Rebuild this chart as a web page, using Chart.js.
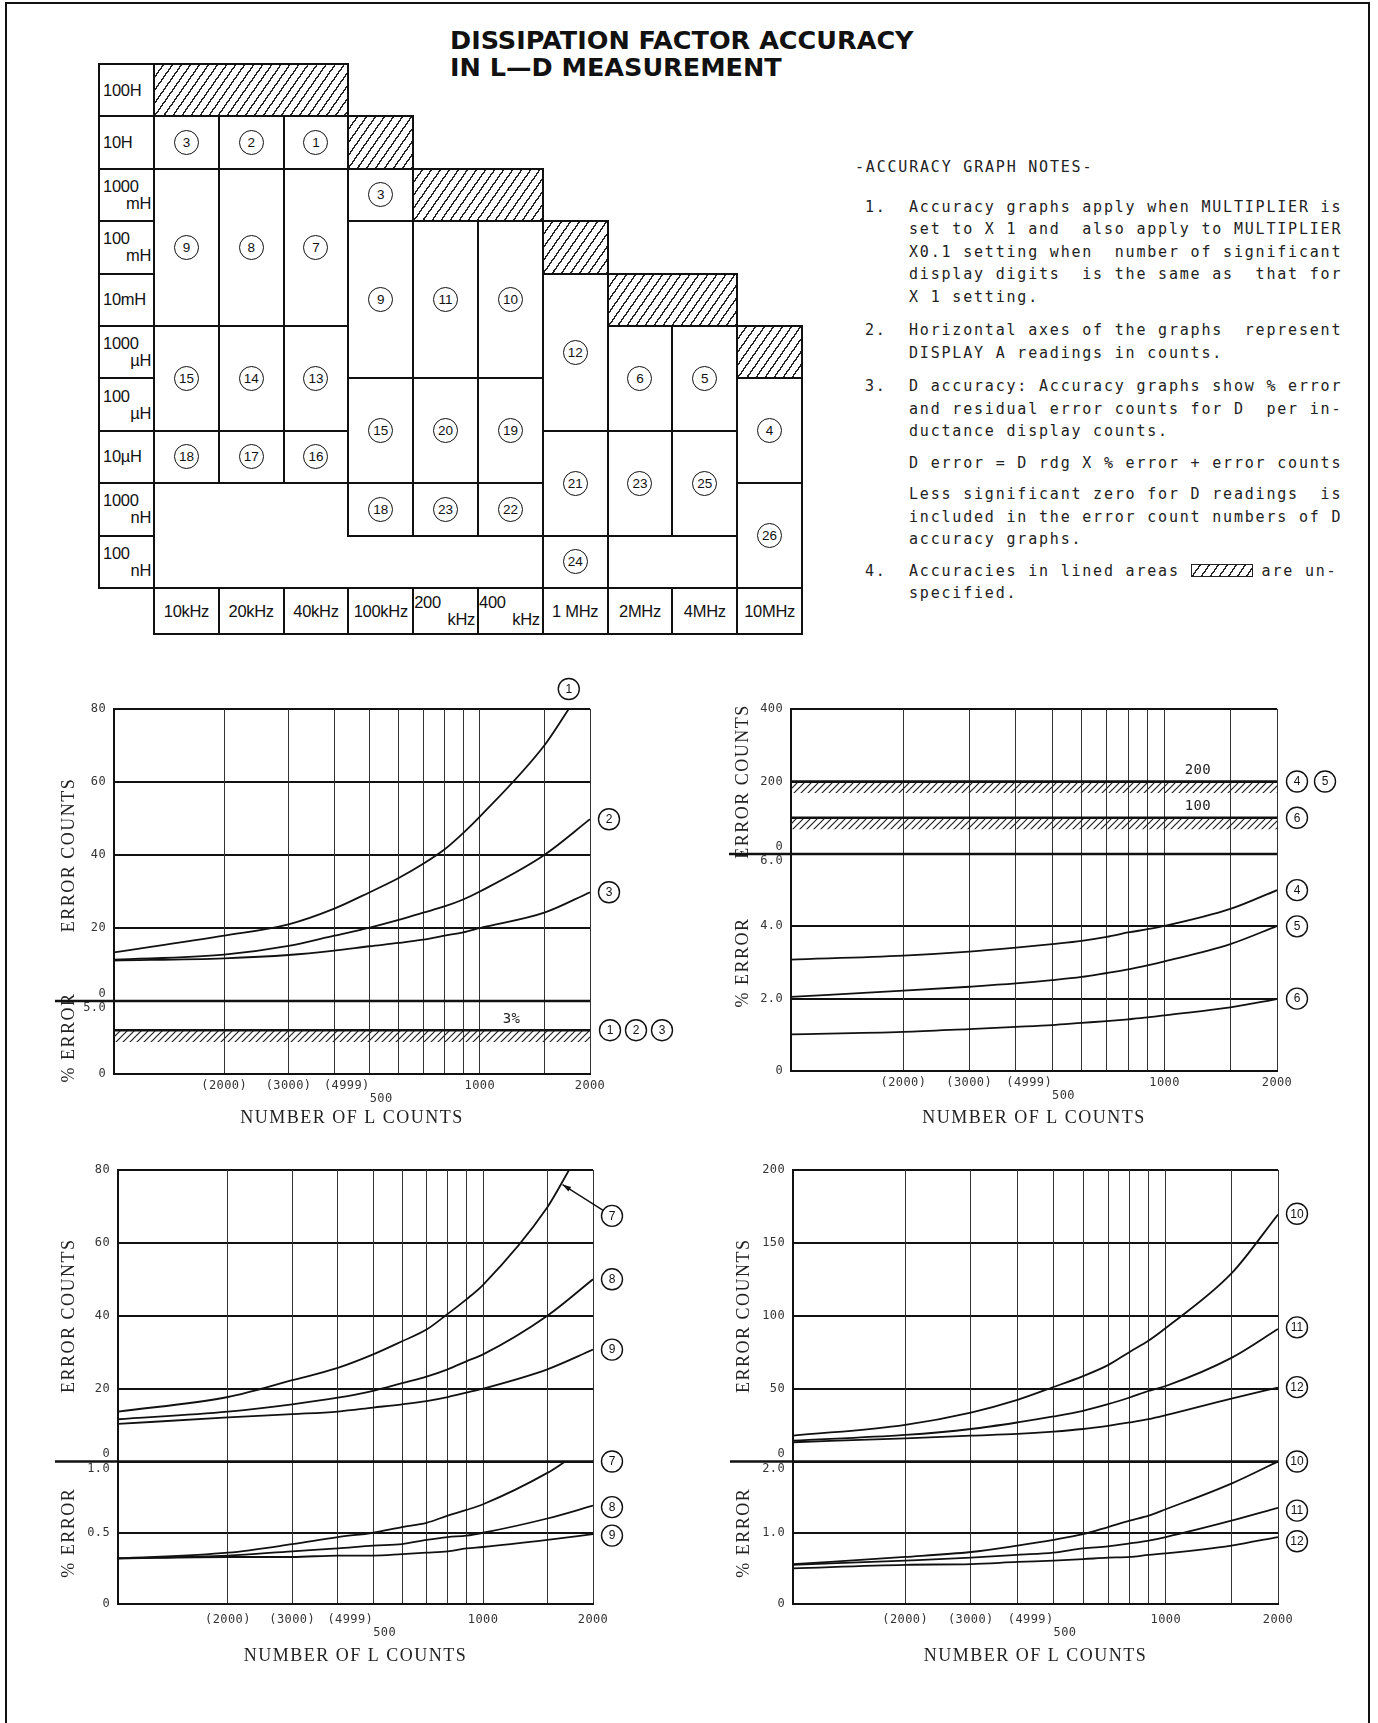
<!DOCTYPE html>
<html>
<head>
<meta charset="utf-8">
<script src="https://cdn.jsdelivr.net/npm/chart.js@4.4.1/dist/chart.umd.min.js"></script>
<style>
  body { margin:0; background:#fff; width:1378px; height:1723px; position:relative; overflow:hidden; color:#111; font-family:"Liberation Sans", sans-serif; }
  #frame { position:absolute; left:5px; top:2px; width:1361px; height:1800px; border:2px solid #111; border-bottom:none; }
  #title { position:absolute; left:450px; top:27px; font:bold 25.5px "DejaVu Sans", sans-serif; line-height:27px; white-space:pre; }
  #grid { position:absolute; left:99px; top:64px; width:710px; height:575px; }
  .cell { position:absolute; box-sizing:border-box; border:2px solid #111; display:flex; align-items:center; justify-content:center; font-size:16.5px; letter-spacing:-0.3px; background:#fff; }
  .lab { justify-content:flex-start; padding-left:3px; }
  .hatch, .hsample { background:repeating-linear-gradient(125deg, #fff 0 6px, #222 6px 7.4px); }
  .circ { flex:0 0 auto; box-sizing:border-box; width:25px; height:25px; border:1.6px solid #111; border-radius:50%; display:flex; align-items:center; justify-content:center; font:13.5px "Liberation Sans Narrow", "Liberation Sans", sans-serif; letter-spacing:0; }
  .two { display:flex; flex-direction:column; width:100%; line-height:17px; padding:0 2px 0 0; }
  .two span:last-child { align-self:flex-end; }
  #notes { position:absolute; left:855px; top:156px; font:15px "DejaVu Sans Mono", monospace; letter-spacing:1.8px; color:#222; line-height:22.5px; }
  #notes .item { display:flex; margin-top:9px; }
  #notes .num { width:54px; padding-left:10px; box-sizing:border-box; }
  #notes .txt { white-space:pre; }
  .hsample { display:inline-block; width:60px; height:11px; border:1px solid #222; vertical-align:-1px; margin-right:9px; }
  canvas { position:absolute; }
</style>
</head>
<body>
<div id="frame"></div>
<div id="title">DISSIPATION FACTOR ACCURACY
IN L—D MEASUREMENT</div>
<div id="grid"></div>
<div id="notes">
  <div>-ACCURACY GRAPH NOTES-</div>
  <div class="item" style="margin-top:17px"><div class="num">1.</div><div class="txt">Accuracy graphs apply when MULTIPLIER is
set to X 1 and  also apply to MULTIPLIER
X0.1 setting when  number of significant
display digits  is the same as  that for
X 1 setting.</div></div>
  <div class="item" style="margin-top:11px"><div class="num">2.</div><div class="txt">Horizontal axes of the graphs  represent
DISPLAY A readings in counts.</div></div>
  <div class="item" style="margin-top:11px"><div class="num">3.</div><div class="txt">D accuracy: Accuracy graphs show % error
and residual error counts for D  per in-
ductance display counts.</div></div>
  <div class="item"><div class="num"></div><div class="txt">D error = D rdg X % error + error counts</div></div>
  <div class="item"><div class="num"></div><div class="txt">Less significant zero for D readings  is
included in the error count numbers of D
accuracy graphs.</div></div>
  <div class="item"><div class="num">4.</div><div class="txt">Accuracies in lined areas <span class="hsample"></span>are un-
specified.</div></div>
</div>
<canvas id="g1" width="636" height="460" style="left:54px;top:670px"></canvas>
<canvas id="g2" width="640" height="460" style="left:728px;top:670px"></canvas>
<canvas id="g3" width="636" height="540" style="left:54px;top:1130px"></canvas>
<canvas id="g4" width="639" height="540" style="left:729px;top:1130px"></canvas>
<script>
// ---- range table ----
const rowLabels = ['100H', '10H', '1000|mH', '100|mH', '10mH', '1000|µH', '100|µH', '10µH', '1000|nH', '100|nH'];
const freqLabels = ['10kHz', '20kHz', '40kHz', '100kHz', '200|kHz', '400|kHz', '1 MHz', '2MHz', '4MHz', '10MHz'];
// [row, rowSpan, col, colSpan, graph no.]  '#' = lined (unspecified) area, '' = empty box
const tableCells = [
  [0, 1, 1, 3, '#'],
  [1, 1, 1, 1, 3], [1, 1, 2, 1, 2], [1, 1, 3, 1, 1], [1, 1, 4, 1, '#'],
  [2, 3, 1, 1, 9], [2, 3, 2, 1, 8], [2, 3, 3, 1, 7],
  [2, 1, 4, 1, 3], [2, 1, 5, 2, '#'],
  [3, 3, 4, 1, 9], [3, 3, 5, 1, 11], [3, 3, 6, 1, 10], [3, 1, 7, 1, '#'],
  [4, 3, 7, 1, 12], [4, 1, 8, 2, '#'],
  [5, 2, 1, 1, 15], [5, 2, 2, 1, 14], [5, 2, 3, 1, 13],
  [5, 2, 8, 1, 6], [5, 2, 9, 1, 5], [5, 1, 10, 1, '#'],
  [6, 2, 4, 1, 15], [6, 2, 5, 1, 20], [6, 2, 6, 1, 19], [6, 2, 10, 1, 4],
  [7, 1, 1, 1, 18], [7, 1, 2, 1, 17], [7, 1, 3, 1, 16],
  [7, 2, 7, 1, 21], [7, 2, 8, 1, 23], [7, 2, 9, 1, 25],
  [8, 1, 4, 1, 18], [8, 1, 5, 1, 23], [8, 1, 6, 1, 22], [8, 2, 10, 1, 26],
  [9, 1, 7, 1, 24], [9, 1, 8, 2, '']
];

// ---- graph data (x = number of L counts) ----
const gridCounts = [100, 200, 300, 400, 500, 600, 700, 800, 900, 1000, 1500, 2000];
const lCounts = [100, 200, 300, 400, 500, 600, 700, 800, 900, 1000, 1500, 2000];
const lineEnds = [100, 2000];
const xTickValues = [200, 300, 500, 1000, 2000];
const xTickLabels = ['(2000)', '(3000)', ['(4999)', '500'], '1000', '2000'];

// graphs 1, 2, 3
const c1X = [100, 200, 300, 400, 500, 600, 700, 800, 900, 1000, 1500, 1750];
const c1Counts = [13.3, 17.9, 21, 25.3, 29.8, 33.7, 37.6, 41.5, 46, 50.5, 70, 80];
const c2Counts = [11.3, 12.7, 15.1, 17.9, 20.1, 22.2, 24.2, 25.9, 27.8, 30, 40, 49.8];
const c3Counts = [11.1, 11.7, 12.6, 13.8, 15, 15.9, 16.8, 17.9, 18.8, 20, 24.2, 29.8];
const c123Pct = [3, 3];

// graphs 4, 5, 6
const c45Counts = [200, 200];
const c6Counts = [100, 100];
const c4Pct = [3.08, 3.19, 3.3, 3.41, 3.51, 3.6, 3.71, 3.83, 3.92, 4.01, 4.48, 5.0];
const c5Pct = [2.05, 2.22, 2.33, 2.42, 2.51, 2.6, 2.71, 2.81, 2.92, 3.03, 3.51, 4.01];
const c6Pct = [1.01, 1.08, 1.16, 1.22, 1.27, 1.33, 1.38, 1.43, 1.48, 1.54, 1.76, 1.99];

// graphs 7, 8, 9
const c7X = [100, 200, 300, 400, 500, 600, 700, 800, 900, 1000, 1500, 1720];
const c7Counts = [13.7, 17.7, 22.3, 25.7, 29.4, 33, 36.2, 40.5, 44.5, 48.5, 69.8, 80];
const c8Counts = [11.6, 13.7, 15.7, 17.5, 19.4, 21.5, 23.3, 25.3, 27.5, 29.4, 40, 50];
const c9Counts = [10.3, 12.1, 13, 13.7, 14.8, 15.7, 16.6, 17.7, 18.9, 20, 25.3, 30.7];
const c7PctX = [100, 200, 300, 400, 500, 600, 700, 800, 900, 1000, 1500, 1680];
const c7Pct = [0.32, 0.36, 0.42, 0.47, 0.5, 0.54, 0.57, 0.62, 0.66, 0.7, 0.92, 1.0];
const c8Pct = [0.32, 0.34, 0.37, 0.39, 0.41, 0.42, 0.45, 0.47, 0.48, 0.5, 0.6, 0.69];
const c9Pct = [0.32, 0.33, 0.33, 0.34, 0.34, 0.35, 0.36, 0.37, 0.39, 0.4, 0.45, 0.49];

// graphs 10, 11, 12
const c10Counts = [17.7, 25.2, 33.6, 42.3, 51.1, 58.6, 66.1, 75.2, 83, 91.6, 129, 169.5];
const c11Counts = [14.3, 18.2, 22.3, 26.8, 30.9, 34.8, 39.3, 43.9, 48.4, 51.8, 71.1, 90.9];
const c12Counts = [13.2, 15.9, 17.7, 18.9, 20.5, 22.3, 24.5, 26.8, 29.1, 31.8, 43.2, 50.7];
const c10Pct = [0.56, 0.66, 0.73, 0.82, 0.9, 0.98, 1.08, 1.17, 1.24, 1.33, 1.69, 2.0];
const c11Pct = [0.55, 0.61, 0.65, 0.69, 0.72, 0.78, 0.81, 0.85, 0.89, 0.94, 1.17, 1.35];
const c12Pct = [0.5, 0.55, 0.56, 0.59, 0.61, 0.63, 0.65, 0.66, 0.69, 0.71, 0.82, 0.94];

// ---- build the table ----
const grid = document.getElementById('grid');
const colX = c => c === 0 ? 0 : 55 + (c - 1) * 64.8;
const rowY = r => r * 52.4;

function twoLine(s) {
  const p = s.split('|');
  return p.length > 1 ? '<div class="two"><span>' + p[0] + '</span><span>' + p[1] + '</span></div>' : s;
}
function addCell(top, height, c, cs, html, cls) {
  const d = document.createElement('div');
  d.className = 'cell ' + (cls || '');
  d.style.left = (colX(c) - 1) + 'px';
  d.style.top = (top - 1) + 'px';
  d.style.width = (colX(c + cs) - colX(c) + 2) + 'px';
  d.style.height = (height + 2) + 'px';
  d.innerHTML = html;
  grid.appendChild(d);
}
rowLabels.forEach((t, r) => addCell(rowY(r), 52.4, 0, 1, twoLine(t), 'lab'));
tableCells.forEach(([r, rs, c, cs, g]) => {
  if (g === '#') addCell(rowY(r), rs * 52.4, c, cs, '', 'hatch');
  else addCell(rowY(r), rs * 52.4, c, cs, g === '' ? '' : '<div class="circ">' + g + '</div>');
});
freqLabels.forEach((t, i) => addCell(rowY(10), 46, i + 1, 1, twoLine(t)));

// ---- graphs ----
const ink = '#111';
const hatchTile = document.createElement('canvas');
hatchTile.width = 7; hatchTile.height = 7;
const ht = hatchTile.getContext('2d');
ht.strokeStyle = '#222'; ht.lineWidth = 1.2;
ht.beginPath();
ht.moveTo(0, 7); ht.lineTo(7, 0);
ht.moveTo(-1, 1); ht.lineTo(1, -1);
ht.moveTo(6, 8); ht.lineTo(8, 6);
ht.stroke();
const hatch = ht.createPattern(hatchTile, 'repeat');

function curve(xs, ys, axis) {
  return {
    data: xs.map((x, i) => ({ x: x, y: ys[i] })),
    yAxisID: axis, borderColor: ink, borderWidth: 1.8, pointRadius: 0,
    fill: false, cubicInterpolationMode: 'monotone'
  };
}
function limitLine(ys, axis, floor) {
  return {
    data: lineEnds.map((x, i) => ({ x: x, y: ys[i] })),
    yAxisID: axis, borderColor: ink, borderWidth: 2.5, pointRadius: 0,
    fill: { value: floor }, backgroundColor: hatch
  };
}

function xLabel(v) {
  const i = xTickValues.indexOf(v);
  if (i < 0) return '';
  const t = xTickLabels[i];
  if (!Array.isArray(t)) return t;
  const pad = ' '.repeat(t[0].length);
  return [t[0] + pad, pad + t[1] + ' '.repeat(t[0].length - t[1].length)];
}

// typewriter-like spacing: wide for axis titles, narrow for tick numbers
// (tick labels use z:1 so they are painted after the datasets)
const spacing = {
  id: 'spacing',
  beforeDraw(chart) { chart.ctx.letterSpacing = '1.5px'; },
  afterDatasetsDraw(chart) { chart.ctx.letterSpacing = '0.4px'; },
  afterDraw(chart) { chart.ctx.letterSpacing = '0px'; }
};

const marks = {
  id: 'marks',
  afterDatasetsDraw(chart, args, o) {
    const ctx = chart.ctx, xs = chart.scales.x, area = chart.chartArea;
    ctx.save();
    // panel divider runs out past the axis
    const ySep = chart.scales.yCnt.bottom;
    ctx.strokeStyle = ink; ctx.lineWidth = 2.5;
    ctx.beginPath(); ctx.moveTo(1, ySep); ctx.lineTo(area.right, ySep); ctx.stroke();

    ctx.fillStyle = '#222'; ctx.textAlign = 'center'; ctx.textBaseline = 'bottom';
    ctx.font = '14px "DejaVu Sans Mono", monospace';
    (o.notes || []).forEach(n => {
      ctx.fillText(n.text, xs.getPixelForValue(n.x), chart.scales[n.axis].getPixelForValue(n.y) - 4);
    });

    (o.circles || []).forEach(m => {
      const cx = xs.getPixelForValue(m.x) + (m.dx || 0);
      const cy = chart.scales[m.axis].getPixelForValue(m.y) + (m.dy || 0);
      ctx.strokeStyle = ink; ctx.lineWidth = 1.4;
      if (m.to) {
        const tx = xs.getPixelForValue(m.to.x), ty = chart.scales[m.axis].getPixelForValue(m.to.y);
        const a = Math.atan2(ty - cy, tx - cx);
        ctx.beginPath(); ctx.moveTo(cx + 10.5 * Math.cos(a), cy + 10.5 * Math.sin(a)); ctx.lineTo(tx, ty); ctx.stroke();
        ctx.beginPath();
        ctx.moveTo(tx, ty);
        ctx.lineTo(tx - 9 * Math.cos(a - 0.3), ty - 9 * Math.sin(a - 0.3));
        ctx.lineTo(tx - 9 * Math.cos(a + 0.3), ty - 9 * Math.sin(a + 0.3));
        ctx.closePath(); ctx.fillStyle = ink; ctx.fill();
      }
      ctx.beginPath(); ctx.arc(cx, cy, 10.5, 0, Math.PI * 2);
      ctx.fillStyle = '#fff'; ctx.fill(); ctx.stroke();
      ctx.fillStyle = ink; ctx.textBaseline = 'middle';
      ctx.letterSpacing = '0px';
      ctx.font = '12px "Liberation Sans Narrow", "Liberation Sans", sans-serif';
      ctx.fillText(m.n, cx, cy + 0.5);
    });
    ctx.restore();
  }
};

function makeGraph(id, o) {
  const tickFont = { family: '"DejaVu Sans Mono", monospace', size: 12 };
  const titleFont = { family: '"Liberation Serif", serif', size: 18 };
  const fitY = s => { s.width = o.yWidth; };
  const yGrid = { color: ink, lineWidth: 2, drawTicks: false };
  const yBorder = { color: ink, width: 2 };
  return new Chart(document.getElementById(id), {
    type: 'line',
    data: { datasets: o.datasets },
    options: {
      responsive: false,
      animation: false,
      devicePixelRatio: 1,
      layout: { padding: { top: o.padTop, right: o.padRight, left: 0, bottom: 0 } },
      plugins: { legend: { display: false }, tooltip: { enabled: false }, marks: o.marks },
      scales: {
        yPct: {
          type: 'linear', position: 'left', stack: 'panel', stackWeight: o.pctWeight,
          min: 0, max: o.pctMax, afterFit: fitY, grid: yGrid, border: yBorder,
          ticks: {
            z: 1, stepSize: o.pctStep, padding: 8, color: '#333', font: tickFont,
            callback: v => {
              const t = v === 0 ? '0' : v.toFixed(1);
              return v === o.pctMax ? ['', t] : t;
            }
          },
          title: { display: true, text: '% ERROR', font: titleFont, color: '#222' }
        },
        yCnt: {
          type: 'linear', position: 'left', stack: 'panel', stackWeight: o.cntWeight,
          min: 0, max: o.cntMax, afterFit: fitY, grid: yGrid, border: yBorder,
          ticks: {
            z: 1, stepSize: o.cntStep, padding: 8, color: '#333', font: tickFont,
            callback: v => v === 0 ? ['0', ''] : String(v)
          },
          title: { display: true, text: 'ERROR COUNTS', font: titleFont, color: '#222' }
        },
        x: {
          type: 'logarithmic', min: 100, max: 2000,
          afterBuildTicks: s => { s.ticks = gridCounts.map(v => ({ value: v })); },
          afterFit: s => { s.height = o.xHeight; },
          grid: { color: '#333', lineWidth: 1, drawTicks: false },
          border: { color: ink, width: 2 },
          ticks: {
            z: 1, autoSkip: false, maxRotation: 0, minRotation: 0, padding: o.xPad, color: '#333',
            font: Object.assign({ lineHeight: 1.05 }, tickFont),
            callback: v => xLabel(v)
          },
          title: { display: true, text: 'NUMBER OF L COUNTS', font: titleFont, color: '#222', padding: { top: 0, bottom: o.titlePad } }
        }
      }
    },
    plugins: [spacing, marks]
  });
}

makeGraph('g1', {
  yWidth: 60, padTop: 39, padRight: 100, xHeight: 56, xPad: 6, titlePad: 1,
  cntMax: 80, cntStep: 20, cntWeight: 4, pctMax: 5, pctStep: 5, pctWeight: 1,
  datasets: [
    curve(c1X, c1Counts, 'yCnt'), curve(lCounts, c2Counts, 'yCnt'), curve(lCounts, c3Counts, 'yCnt'),
    limitLine(c123Pct, 'yPct', 2.2)
  ],
  marks: {
    notes: [{ text: '3%', x: 1220, y: 3, axis: 'yPct' }],
    circles: [
      { n: '1', axis: 'yCnt', x: 1750, y: 80, dy: -20 },
      { n: '2', axis: 'yCnt', x: 2000, y: 49.8, dx: 19 },
      { n: '3', axis: 'yCnt', x: 2000, y: 29.8, dx: 19 },
      { n: '1', axis: 'yPct', x: 2000, y: 3, dx: 20 },
      { n: '2', axis: 'yPct', x: 2000, y: 3, dx: 46 },
      { n: '3', axis: 'yPct', x: 2000, y: 3, dx: 72 }
    ]
  }
});

makeGraph('g2', {
  yWidth: 63, padTop: 39, padRight: 91, xHeight: 59, xPad: 6, titlePad: 1,
  cntMax: 400, cntStep: 200, cntWeight: 145, pctMax: 6, pctStep: 2, pctWeight: 217,
  datasets: [
    limitLine(c45Counts, 'yCnt', 168), limitLine(c6Counts, 'yCnt', 68),
    curve(lCounts, c4Pct, 'yPct'), curve(lCounts, c5Pct, 'yPct'), curve(lCounts, c6Pct, 'yPct')
  ],
  marks: {
    notes: [{ text: '200', x: 1228, y: 200, axis: 'yCnt' }, { text: '100', x: 1228, y: 100, axis: 'yCnt' }],
    circles: [
      { n: '4', axis: 'yCnt', x: 2000, y: 200, dx: 20 },
      { n: '5', axis: 'yCnt', x: 2000, y: 200, dx: 48 },
      { n: '6', axis: 'yCnt', x: 2000, y: 100, dx: 20 },
      { n: '4', axis: 'yPct', x: 2000, y: 5.0, dx: 20 },
      { n: '5', axis: 'yPct', x: 2000, y: 4.0, dx: 20 },
      { n: '6', axis: 'yPct', x: 2000, y: 2.0, dx: 20 }
    ]
  }
});

makeGraph('g3', {
  yWidth: 64, padTop: 40, padRight: 97, xHeight: 66, xPad: 10, titlePad: 3,
  cntMax: 80, cntStep: 20, cntWeight: 291.5, pctMax: 1, pctStep: 0.5, pctWeight: 142.5,
  datasets: [
    curve(c7X, c7Counts, 'yCnt'), curve(lCounts, c8Counts, 'yCnt'), curve(lCounts, c9Counts, 'yCnt'),
    curve(c7PctX, c7Pct, 'yPct'), curve(lCounts, c8Pct, 'yPct'), curve(lCounts, c9Pct, 'yPct')
  ],
  marks: {
    circles: [
      { n: '7', axis: 'yCnt', x: 2000, y: 67.4, dx: 19, to: { x: 1650, y: 76 } },
      { n: '8', axis: 'yCnt', x: 2000, y: 50, dx: 19 },
      { n: '9', axis: 'yCnt', x: 2000, y: 30.7, dx: 19 },
      { n: '7', axis: 'yPct', x: 2000, y: 1.0, dx: 19 },
      { n: '8', axis: 'yPct', x: 2000, y: 0.68, dx: 19 },
      { n: '9', axis: 'yPct', x: 2000, y: 0.48, dx: 19 }
    ]
  }
});

makeGraph('g4', {
  yWidth: 64, padTop: 40, padRight: 90, xHeight: 66, xPad: 10, titlePad: 3,
  cntMax: 200, cntStep: 50, cntWeight: 291.5, pctMax: 2, pctStep: 1, pctWeight: 142.5,
  datasets: [
    curve(lCounts, c10Counts, 'yCnt'), curve(lCounts, c11Counts, 'yCnt'), curve(lCounts, c12Counts, 'yCnt'),
    curve(lCounts, c10Pct, 'yPct'), curve(lCounts, c11Pct, 'yPct'), curve(lCounts, c12Pct, 'yPct')
  ],
  marks: {
    circles: [
      { n: '10', axis: 'yCnt', x: 2000, y: 170, dx: 19 },
      { n: '11', axis: 'yCnt', x: 2000, y: 92, dx: 19 },
      { n: '12', axis: 'yCnt', x: 2000, y: 51, dx: 19 },
      { n: '10', axis: 'yPct', x: 2000, y: 2.0, dx: 19 },
      { n: '11', axis: 'yPct', x: 2000, y: 1.31, dx: 19 },
      { n: '12', axis: 'yPct', x: 2000, y: 0.88, dx: 19 }
    ]
  }
});
</script>
</body>
</html>
